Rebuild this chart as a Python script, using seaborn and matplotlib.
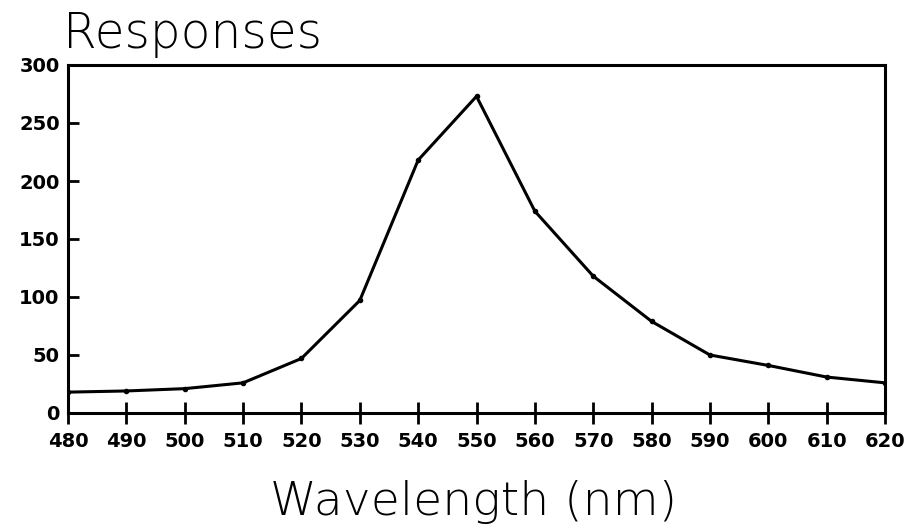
import matplotlib
matplotlib.use("Agg")
import matplotlib.pyplot as plt
import seaborn as sns
import pandas as pd

wavelength = [480, 490, 500, 510, 520, 530, 540, 550, 560, 570, 580, 590, 600, 610, 620]
response = [18, 19, 21, 26, 47, 97, 218, 273, 174, 118, 79, 50, 41, 31, 26]
y_ticks = [0, 50, 100, 150, 200, 250, 300]
x_ticks = list(range(480, 621, 10))

sns.set_theme(style="white")
plt.rcParams['font.family'] = ['DejaVu Sans']

df = pd.DataFrame({"Wavelength": wavelength, "Response": response})

fig = plt.figure(figsize=(9.1, 5.29), dpi=100)
ax = fig.add_axes([68/910, 1-413/529, (885-68)/910, (413-65)/529])

sns.lineplot(data=df, x="Wavelength", y="Response", ax=ax, color="black",
             linewidth=2.2, marker="o", markersize=4, markeredgewidth=0)

ax.set_xlim(480, 620)
ax.set_ylim(0, 300)
ax.set_xticks(x_ticks)
ax.set_yticks(y_ticks)
ax.set_xlabel("")
ax.set_ylabel("")
for s in ax.spines.values():
    s.set_visible(True)
    s.set_color("black")
    s.set_linewidth(2.2)
ax.tick_params(axis="x", direction="inout", length=16, width=2, colors="black",
               labelsize=14, pad=6, bottom=True)
ax.tick_params(axis="y", direction="in", length=8, width=2, colors="black",
               labelsize=14, pad=6, left=True)
for lab in ax.get_xticklabels() + ax.get_yticklabels():
    lab.set_fontweight("bold")

fig.text(63/910, 1-48/529, "Responses", fontsize=35, fontweight="light",
         ha="left", va="baseline", color="black")
fig.text(474/910, 1-515/529, "Wavelength (nm)", fontsize=34, fontweight="light",
         ha="center", va="baseline", color="black")

fig.savefig("out.png", dpi=100, facecolor="white")
